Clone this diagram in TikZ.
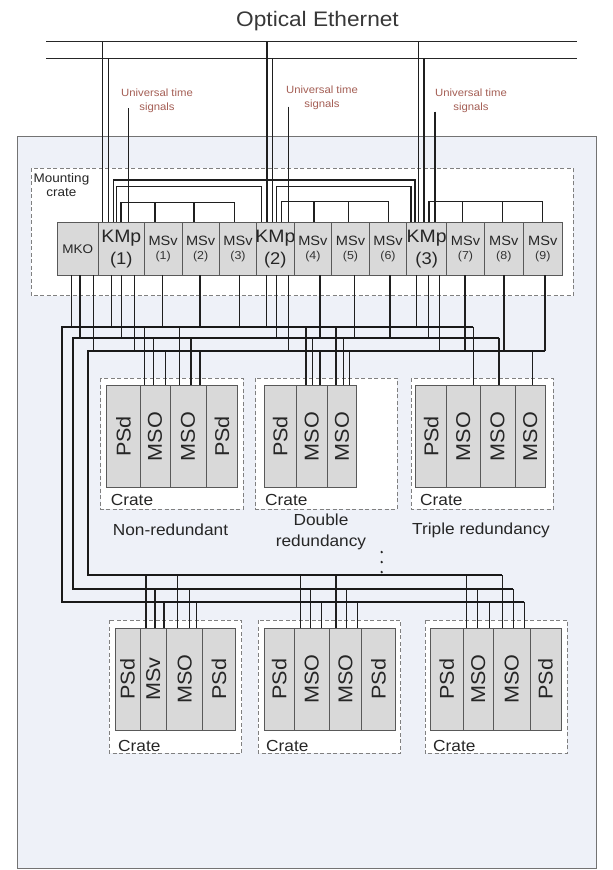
\documentclass[tikz,border=0pt]{standalone}
\usepackage{fontspec}
\setmainfont[FakeStretch=1.08]{Liberation Sans}
\definecolor{bgblue}{RGB}{238,241,248}
\definecolor{utsred}{RGB}{165,95,85}
\definecolor{modgray}{RGB}{217,217,217}
\newcommand\fsz[1]{\fontsize{#1}{#1}\selectfont}
% vertical-label module: name x1 x2 y1 y2 label
\newcommand\vmod[6]{%
  \draw[mod] (#2,#4) rectangle (#3,#5);
  \node[rotate=90, font=\fsz{20}, inner sep=0pt, text=black!85] (#1) at ({(#2+#3)/2},{(#4+#5)/2}) {#6};}
% mounting-crate module: name x1 x2 top-label bottom-label
\newcommand\kmod[5]{%
  \draw[mod] (#2,222.7) rectangle (#3,275);
  \node[font=\fsz{18}, inner sep=0pt, text=black!85] (#1) at ({(#2+#3)/2},238.5) {#4};
  \node[font=\fsz{17}, inner sep=0pt, text=black!85] at ({(#2+#3)/2},260) {#5};}
\newcommand\smod[5]{%
  \draw[mod] (#2,222.7) rectangle (#3,275);
  \node[font=\fsz{13.5}, inner sep=0pt, text=black!85] (#1) at ({(#2+#3)/2},241) {#4};
  \node[font=\fsz{11.5}, inner sep=0pt, text=black!80] at ({(#2+#3)/2},257) {#5};}
\begin{document}
\begin{tikzpicture}[x=1pt,y=-1pt,
  ln/.style={draw=black!88, line width=1.1pt},
  bus/.style={draw=black!90, line width=1.9pt, line join=miter},
  eth/.style={draw=black!85, line width=1.4pt},
  mod/.style={draw=black!65, fill=modgray, line width=0.9pt},
  dbox/.style={draw=black!50, fill=white, line width=0.8pt, dash pattern=on 4pt off 2.5pt},
  uts/.style={text=utsred, font=\fontsize{10.5}{14}\selectfont, align=center, inner sep=0pt},
  lbl/.style={font=\fsz{16}, text=black!85, inner sep=0pt}]
\useasboundingbox (0,0) rectangle (613,870);
\fill[white] (0,0) rectangle (613,870);
% outer shaded area
\draw[draw=black!55, fill=bgblue, line width=0.9pt] (17,136.7) rectangle (596.7,868);
% title and Ethernet
\node[font=\fsz{21}, text=black!78] (title) at (317.5,20.7) {Optical Ethernet};
\coordinate (e1L) at (46,41.7); \coordinate (e1R) at (577,41.7);
\coordinate (e2L) at (46,58.3); \coordinate (e2R) at (577,58.3);
\draw[eth] (e1L) -- (e1R);
\draw[eth] (e2L) -- (e2R);
% mounting crate
\draw[dbox] (31,168.3) rectangle (573.3,295.7);
\node[font=\fontsize{12.5}{14}\selectfont, align=center, text=black!85, inner sep=0pt] (mc) at (61.5,185) {Mounting\\crate};
% Universal time signals
\node[uts] (u1) at (157,100.5) {Universal time\\signals};
\node[uts] (u2) at (322,98) {Universal time\\signals};
\node[uts] (u3) at (471,100.5) {Universal time\\signals};
% KMp links to Ethernet and time signals
\draw[ln] (102.7,41.7) -- (102.7,222.7);
\draw[ln] (108.3,58.3) -- (108.3,222.7);
\draw[ln] (128.3,108.3) -- (128.3,222.7);
\draw[ln] (267,41.7) -- (267,222.7);
\draw[ln] (272.3,58.3) -- (272.3,222.7);
\draw[ln] (288.3,106.7) -- (288.3,222.7);
\draw[ln] (418.3,41.7) -- (418.3,222.7);
\draw[ln] (424,58.3) -- (424,222.7);
\draw[ln] (435,111.7) -- (435,222.7);
% KMp - KMp links
\draw[ln] (113.3,222.7) -- (113.3,180) -- (415,180) -- (415,222.7);
\draw[ln] (116.7,222.7) -- (116.7,186.7) -- (261.7,186.7) -- (261.7,222.7);
\draw[ln] (276.5,222.7) -- (276.5,186.7) -- (411,186.7) -- (411,222.7);
% KMp - MSv links
\draw[ln] (121,222.7) -- (121,202.7) -- (234.3,202.7) -- (234.3,222.7);
\foreach \x in {155,194} \draw[ln] (\x,202.7) -- (\x,222.7);
\draw[ln] (281.7,222.7) -- (281.7,201.7) -- (388.3,201.7) -- (388.3,222.7);
\foreach \x in {314,348.3} \draw[ln] (\x,201.7) -- (\x,222.7);
\draw[ln] (429,222.7) -- (429,201.7) -- (542.7,201.7) -- (542.7,222.7);
\foreach \x in {462.3,502.3} \draw[ln] (\x,201.7) -- (\x,222.7);
% modules of the mounting crate
\draw[mod] (57.3,222.7) rectangle (98.3,275);
\node[font=\fsz{12.5}, inner sep=0pt, text=black!85] (mko) at (77.8,249) {MKO};
\kmod{kmp1}{98.3}{144.3}{KMp}{(1)}
\smod{msv1}{144.3}{182}{MSv}{(1)}
\smod{msv2}{182}{219.3}{MSv}{(2)}
\smod{msv3}{219.3}{256.7}{MSv}{(3)}
\kmod{kmp2}{256.7}{294}{KMp}{(2)}
\smod{msv4}{294}{331.7}{MSv}{(4)}
\smod{msv5}{331.7}{369.3}{MSv}{(5)}
\smod{msv6}{369.3}{406.7}{MSv}{(6)}
\kmod{kmp3}{406.7}{446.7}{KMp}{(3)}
\smod{msv7}{446.7}{484.3}{MSv}{(7)}
\smod{msv8}{484.3}{523.3}{MSv}{(8)}
\smod{msv9}{523.3}{562.3}{MSv}{(9)}
% crates (dashed boxes)
\draw[dbox] (100.7,378.3) rectangle (243.3,509.3);
\draw[dbox] (255.7,378.3) rectangle (397.3,509.3);
\draw[dbox] (411,378.3) rectangle (553.3,509.3);
\draw[dbox] (109.3,620) rectangle (241.7,753.3);
\draw[dbox] (258.3,620) rectangle (400.7,753.3);
\draw[dbox] (425,620) rectangle (567.3,753.3);
% drops from the mounting crate to the buses
\foreach \x in {71.7,111.7,162.7,200,239.3,266.7,416.7} \draw[ln] (\x,275) -- (\x,326.7);
\foreach \x in {80,121.7,276.7,320,354.3,390,428.3} \draw[ln] (\x,275) -- (\x,337.7);
\foreach \x in {93.3,134.3,288.3,439.3,465,504,545} \draw[ln] (\x,275) -- (\x,351);
% drops from upper buses to the upper crates
\foreach \x in {144.3,179.3,306,336,473.3} \draw[ln] (\x,326.7) -- (\x,385.7);
\foreach \x in {153.3,191,312.5,343.3,499} \draw[ln] (\x,337.7) -- (\x,385.7);
\foreach \x in {165.7,200,320,349.3,532.3} \draw[ln] (\x,351) -- (\x,385.7);
% drops from lower buses to the lower crates
\foreach \x in {146,177.3,300.7,336,466.7,502.3} \draw[ln] (\x,575) -- (\x,628.3);
\foreach \x in {155,189.3,310.7,346.7,477.3,513.3} \draw[ln] (\x,589.3) -- (\x,628.3);
\foreach \x in {164,196.7,321.7,357.3,489.3,524.3} \draw[ln] (\x,601.7) -- (\x,628.3);
% buses
\coordinate (b1a) at (473.3,326.7); \coordinate (b1b) at (62.3,326.7);
\coordinate (b1c) at (62.3,601.7);  \coordinate (b1d) at (524.3,601.7);
\coordinate (b2a) at (499,337.7);   \coordinate (b2b) at (73.3,337.7);
\coordinate (b2c) at (73.3,589.3);  \coordinate (b2d) at (513.3,589.3);
\coordinate (b3a) at (545,351);     \coordinate (b3b) at (87.7,351);
\coordinate (b3c) at (87.7,575);    \coordinate (b3d) at (502.3,575);
\draw[bus] (b1a) -- (b1b) -- (b1c) -- (b1d);
\draw[bus] (b2a) -- (b2b) -- (b2c) -- (b2d);
\draw[bus] (b3a) -- (b3b) -- (b3c) -- (b3d);
% upper crates
\vmod{c1a}{106.7}{140}{385.7}{487.3}{PSd}
\vmod{c1b}{140}{170}{385.7}{487.3}{MSO}
\vmod{c1c}{170}{206}{385.7}{487.3}{MSO}
\vmod{c1d}{206}{237.7}{385.7}{487.3}{PSd}
\vmod{c2a}{264.3}{296}{385.7}{487.3}{PSd}
\vmod{c2b}{296}{327.3}{385.7}{487.3}{MSO}
\vmod{c2c}{327.3}{356.7}{385.7}{487.3}{MSO}
\vmod{c3a}{415.7}{446.7}{385.7}{487.3}{PSd}
\vmod{c3b}{446.7}{480}{385.7}{487.3}{MSO}
\vmod{c3c}{480}{515}{385.7}{487.3}{MSO}
\vmod{c3d}{515}{545.7}{385.7}{487.3}{MSO}
% lower crates
\vmod{d1a}{115}{140}{628.3}{730}{PSd}
\vmod{d1b}{140}{166.7}{628.3}{730}{MSv}
\vmod{d1c}{166.7}{202.7}{628.3}{730}{MSO}
\vmod{d1d}{202.7}{235}{628.3}{730}{PSd}
\vmod{d2a}{264}{294.3}{628.3}{730}{PSd}
\vmod{d2b}{294.3}{329.3}{628.3}{730}{MSO}
\vmod{d2c}{329.3}{361.7}{628.3}{730}{MSO}
\vmod{d2d}{361.7}{395}{628.3}{730}{PSd}
\vmod{d3a}{430}{463.3}{628.3}{730}{PSd}
\vmod{d3b}{463.3}{493.3}{628.3}{730}{MSO}
\vmod{d3c}{493.3}{530}{628.3}{730}{MSO}
\vmod{d3d}{530}{561}{628.3}{730}{PSd}
% crate labels
\node[lbl, anchor=west] at (110.7,499.7) {Crate};
\node[lbl, anchor=west] at (265,499.7) {Crate};
\node[lbl, anchor=west] at (420,499.7) {Crate};
\node[lbl, anchor=west] at (118,745.5) {Crate};
\node[lbl, anchor=west] at (266,745.5) {Crate};
\node[lbl, anchor=west] at (433,745.5) {Crate};
\node[lbl] (nr) at (170.5,530) {Non-redundant};
\node[lbl, align=center, font=\fontsize{16}{21}\selectfont] (dr) at (321,532) {Double\\redundancy};
\node[lbl] (tr) at (481,530) {Triple redundancy};
% ellipsis dots
\foreach \y in {552,562,572} \fill[black!85] (381.7,\y) circle (1.3pt);
\end{tikzpicture}
\end{document}
